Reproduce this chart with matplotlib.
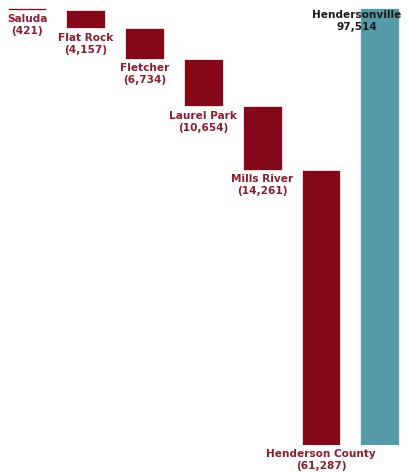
import numpy as np
import matplotlib.pyplot as plt

# waterfall: municipalities that add up to the county total
names = ["Saluda", "Flat Rock", "Fletcher", "Laurel Park", "Mills River", "Henderson County"]
values = [421, 4157, 6734, 10654, 14261, 61287]
total_name = "Hendersonville"
total_value = 97514

red = "#850818"
label_red = "#8e1c2c"
teal = "#569ca8"

fig = plt.figure(figsize=(4.09, 4.73), dpi=100)
ax = fig.add_axes([0, 0.0592, 1, 0.924])

tops = total_value - np.concatenate([[0], np.cumsum(values)[:-1]])
x = np.arange(len(names))
ax.bar(x, values, bottom=tops - np.array(values), width=0.66, color=red,
       edgecolor="white", linewidth=0.5)
ax.bar(len(names), total_value, width=0.66, color=teal, edgecolor="white", linewidth=0.5)

for xi, name, v, t in zip(x, names, values, tops):
    ax.annotate(f"{name}\n({v:,})", (xi, t - v), xytext=(0, -3), textcoords="offset points",
                ha="center", va="top", fontsize=7.6, fontweight="bold",
                color=label_red, linespacing=1.25)

ax.annotate(f"{total_name}\n{total_value:,}", (5.61, total_value), xytext=(0, -1.5),
            textcoords="offset points", ha="center", va="top", fontsize=7.6,
            fontweight="bold", color="#1a1a1a", linespacing=1.25)

ax.set_xlim(-0.459, 6.497)
ax.set_ylim(0, total_value)
ax.axis("off")

fig.savefig("out.png", dpi=100)
